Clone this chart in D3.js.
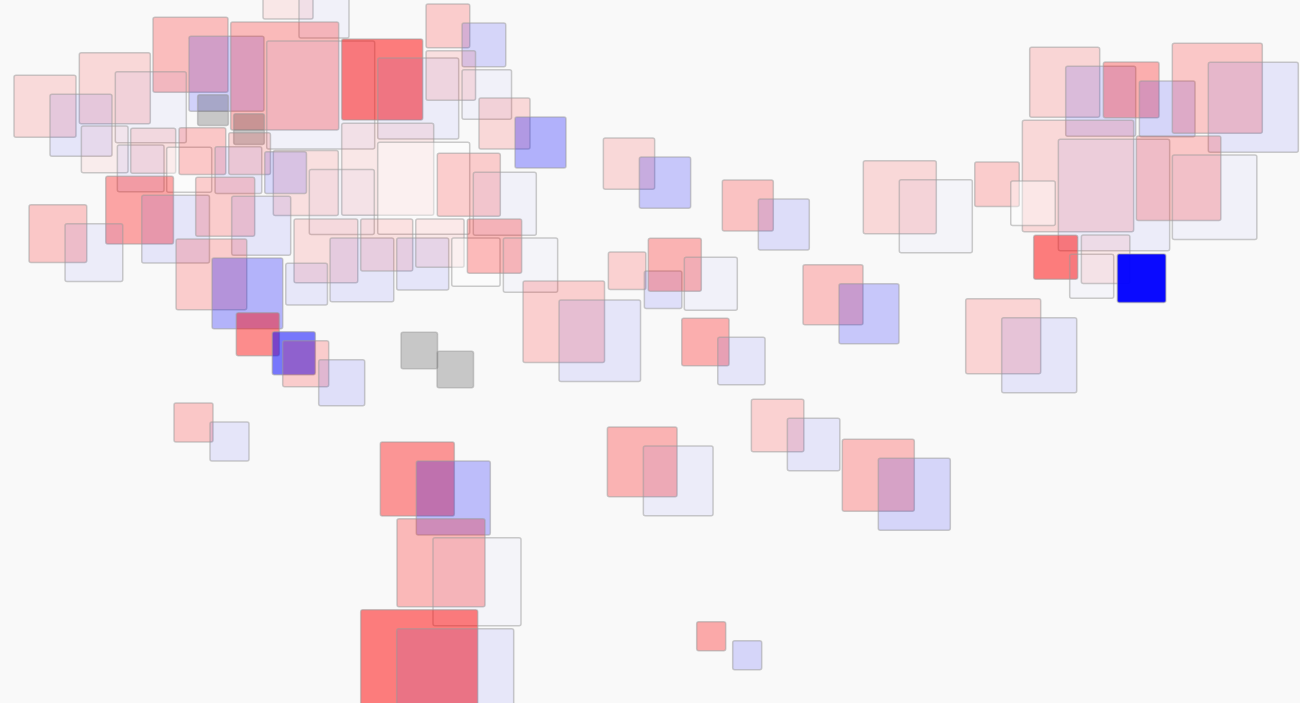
<!DOCTYPE html>
<html>
<head>
<meta charset="utf-8">
<script src="https://cdn.jsdelivr.net/npm/d3@7"></script>
<style>
  html, body { margin: 0; padding: 0; background: #f9f9f9; overflow: hidden; }
  svg { display: block; }
</style>
</head>
<body>
<svg id="chart" width="1300" height="703"></svg>
<script>
// Pair centres (cartogram grid units), square side, and the two series values (0..1).
// null = no data (grey pair); NaN = square not shown.
const gx = [306, 208.5, 302.7, 400.2, 465.9, 468.8, 522.5, 405.7, 486.8, 323.8,
  343.9, 404.7, 457.9, 512.5, 132.8, 63, 231, 122.7, 171.2, 220.4,
  267.6, 157.6, 243.2, 75.9, 229.4, 275.8, 323.7, 288.6, 211.5, 437.3,
  435.3, 459, 437.2, 581.8, 647, 765.8, 645.1, 692.8, 851, 723.4,
  917.8, 660.2, 795.6, 896.3, 729.2, 1082.7, 1149.2, 1235.3, 1096, 1196.6,
  1015, 1073.7, 1123.6, 1021.2];
const gy = [3.5, 64.3, 85.5, 89, 35.4, 85, 133, 178.8, 194.3, 192.5,
  260.4, 254.5, 252.7, 255.7, 97.7, 115.8, 119.6, 158.9, 160.3, 160.6,
  163.1, 219.7, 216.3, 243.1, 283.9, 343.7, 373.2, 274.7, 432, 360,
  488.5, 572.2, 677.7, 331.3, 173.2, 215, 280.3, 274.3, 304.2, 351.5,
  206.7, 471.4, 435.1, 484.8, 645.7, 91.8, 99.4, 97.8, 185.5, 187.8,
  193.8, 266.8, 268.8, 345.7];
const sizes = [50, 75, 108, 81, 43.7, 49.5, 51, 92, 63, 65,
  63.7, 52, 48.3, 54.3, 71, 62, 30.7, 46.7, 45, 46.7,
  41.7, 67.7, 59, 57.7, 70.7, 43, 46, 41.7, 39, 36.5,
  74, 88, 117, 81.5, 51.3, 51, 37.5, 53, 60, 47.3,
  73, 69.7, 52.5, 72, 29, 70, 55.7, 90, 111.3, 84.5,
  44.5, 44, 48.5, 75];
const redVals = [0.07, 0.24, 0.25, 0.5, 0.18, 0.1, 0.13, 0.07, 0.18, 0.1,
  0.11, 0.1, 0.07, 0.26, 0.13, 0.12, null, 0.05, 0.1, 0.2,
  0.14, 0.34, 0.18, 0.2, 0.18, 0.44, 0.18, NaN, 0.2, null,
  0.4, 0.26, 0.5, 0.17, 0.13, 0.22, 0.16, 0.28, 0.22, 0.3,
  0.13, 0.28, 0.16, 0.24, 0.32, 0.14, 0.3, 0.2, 0.13, 0.2,
  0.18, 0.5, 0.07, 0.15];
const blueVals = [0.03, 0.16, 0.03, 0.05, 0.14, 0.03, 0.29, 0, 0.03, 0.02,
  0.08, 0.08, 0, 0.02, 0.03, 0.08, null, 0.05, 0, 0.07,
  0.13, 0.08, 0.08, 0.05, 0.28, 0.52, 0.1, 0.07, 0.08, null,
  0.24, 0.02, 0.07, 0.08, 0.2, 0.11, 0.1, 0.03, 0.2, 0.08,
  0.02, 0.05, 0.08, 0.14, 0.14, 0.12, 0.14, 0.08, 0.05, 0.03,
  0, 0.02, 0.96, 0.08];

const W = 1300, H = 703;
const x = d3.scaleLinear().domain([0, 1300]).range([0, W]);
const y = d3.scaleLinear().domain([0, 703]).range([0, H]);
const side = d3.scaleLinear().domain([0, 100]).range([0, 100]);
const opacity = d3.scaleLinear().domain([0, 1]).range([0, 1]).clamp(true);
// only a zero value shows as a faint white square
const whiten = d3.scaleLinear().domain([0, 0.01]).range([0.4, 0]).clamp(true);
const base = { red: d3.rgb(255, 0, 0), blue: d3.rgb(0, 0, 255) };

function paint(k, v) {
  const w = whiten(v), a = opacity(v);
  const A = 1 - (1 - w) * (1 - a);
  if (A <= 0) return { fill: "#fff", op: 0 };
  const c = base[k];
  const ch = ch0 => Math.max(0, Math.min(255, (255 * w * (1 - a) + ch0 * a) / A));
  return { fill: d3.rgb(ch(c.r), ch(c.g), ch(c.b)).formatHex(), op: A };
}

const dx = 18, dy = 9.5;
const marks = [];
gx.forEach((c, i) => {
  const s = side(sizes[i]);
  const missing = redVals[i] === null && blueVals[i] === null;
  [
    { k: "red", v: redVals[i], ox: -dx, oy: -dy },
    { k: "blue", v: blueVals[i], ox: dx, oy: dy }
  ].forEach(m => {
    if (m.v !== null && Number.isNaN(m.v)) return;
    const p = missing ? { fill: "#000", op: 0.2 } : paint(m.k, m.v);
    marks.push({
      x: x(c) + m.ox - s / 2,
      y: y(gy[i]) + m.oy - s / 2,
      s: s,
      fill: p.fill,
      op: p.op
    });
  });
});

const svg = d3.select("#chart");
svg.append("rect").attr("width", W).attr("height", H).attr("fill", "#f9f9f9");
svg.append("g").selectAll("rect").data(marks).join("rect")
  .attr("x", d => d.x)
  .attr("y", d => d.y)
  .attr("width", d => d.s)
  .attr("height", d => d.s)
  .attr("rx", 2).attr("ry", 2)
  .attr("fill", d => d.fill)
  .attr("fill-opacity", d => d.op)
  .attr("stroke", "#999")
  .attr("stroke-opacity", 0.5)
  .attr("stroke-width", 1.5);
</script>
</body>
</html>
